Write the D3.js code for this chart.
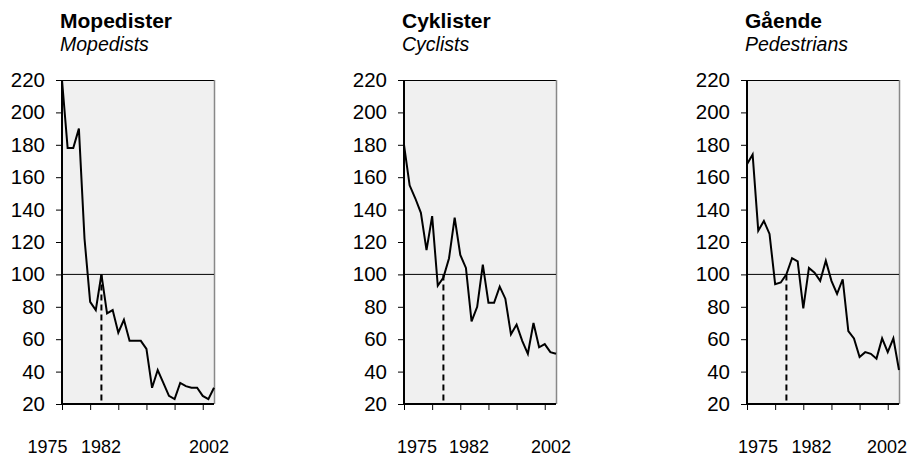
<!DOCTYPE html>
<html>
<head>
<meta charset="utf-8">
<script src="https://cdn.jsdelivr.net/npm/d3@7/dist/d3.min.js"></script>
<style>
  html, body { margin: 0; padding: 0; background: #ffffff; }
  svg { display: block; }
  text { font-family: "Liberation Sans", Arial, Helvetica, sans-serif; fill: #000; }
</style>
</head>
<body>
<svg id="chart" width="911" height="457"></svg>
<script>
// ---------- data ----------
const years = [1975,1976,1977,1978,1979,1980,1981,1982,1983,1984,1985,1986,1987,1988,
               1989,1990,1991,1992,1993,1994,1995,1996,1997,1998,1999,2000,2001,2002];
const mopedists   = [220,178,178,190,122,83,78,100,76,78,64,72,59,59,59,54,30,41,33,25,23,33,31,30,30,25,23,30];
const cyclists    = [180,155,147,138,115,136,93,98,110,135,112,104,71,80,106,82.5,82.5,92.5,85,63,69,59,51,70,55,57,52,51];
const pedestrians = [168,174,127,133,125,94,95,100,110,108,79,104,101,96,108.5,96,88,97,65,60.5,49,52,51,48,60.5,52,60.5,41];
const titlesDa = ["Mopedister", "Cyklister", "Gående"];
const titlesEn = ["Mopedists", "Cyclists", "Pedestrians"];
const yTicks = [20,40,60,80,100,120,140,160,180,200,220];
const xTickYears = [1975,1980,1985,1990,1995,2000];
const xLabelYears = [1975,1982,2002];
const baseYear = 1982;
const baseValue = 100;

// ---------- layout ----------
const series = [mopedists, cyclists, pedestrians];
const panelLefts = [62, 404, 747];
const plotW = 152, plotTop = 80, plotBottom = 404;
// hand-placed label nudges (px) per panel, per label year
const labelNudge = [
  {1975: -14.5, 1982: -0.5, 2002: -5},
  {1975: 13, 1982: 25.5, 2002: -5},
  {1975: 11, 1982: 25, 2002: -12}
];

const svg = d3.select("#chart");
svg.append("rect").attr("width", 911).attr("height", 457).attr("fill", "#fff");

const y = d3.scaleLinear().domain([20, 220]).range([plotBottom, plotTop]);

series.forEach((vals, i) => {
  const L = panelLefts[i];
  const x = d3.scaleLinear().domain([1975, 2002]).range([L, L + plotW]);
  const g = svg.append("g");

  // plot background
  g.append("rect")
    .attr("x", L).attr("y", plotTop)
    .attr("width", plotW).attr("height", plotBottom - plotTop)
    .attr("fill", "#f0f0f0");

  // top border
  g.append("line").attr("x1", L).attr("x2", L + plotW)
    .attr("y1", plotTop + 0.5).attr("y2", plotTop + 0.5)
    .attr("stroke", "#000").attr("stroke-width", 1);
  // right border (grey)
  g.append("line").attr("x1", L + plotW + 0.5).attr("x2", L + plotW + 0.5)
    .attr("y1", plotTop).attr("y2", plotBottom)
    .attr("stroke", "#888").attr("stroke-width", 1.5);

  // reference line at 100
  g.append("line").attr("x1", L).attr("x2", L + plotW)
    .attr("y1", y(baseValue)).attr("y2", y(baseValue))
    .attr("stroke", "#000").attr("stroke-width", 1);

  // dashed line at base year
  g.append("line").attr("x1", x(baseYear)).attr("x2", x(baseYear))
    .attr("y1", y(baseValue)).attr("y2", y(20))
    .attr("stroke", "#000").attr("stroke-width", 2)
    .attr("stroke-dasharray", "6,4");

  // data line
  const line = d3.line().x((d, j) => x(years[j])).y(d => y(d));
  g.append("path").datum(vals)
    .attr("d", line)
    .attr("fill", "none").attr("stroke", "#000")
    .attr("stroke-width", 2).attr("stroke-linejoin", "miter");

  // y axis
  const yAxis = d3.axisLeft(y).tickValues(yTicks).tickSize(6).tickFormat(d3.format("d"));
  const ya = g.append("g").attr("transform", `translate(${L},0)`).call(yAxis);
  ya.select(".domain").attr("stroke", "#000").attr("stroke-width", 2)
    .attr("d", `M0,${plotTop}V${plotBottom}`);
  ya.selectAll(".tick line").attr("stroke", "#000").attr("stroke-width", 1);
  ya.selectAll(".tick text")
    .attr("x", -17).attr("font-size", "20.5px")
    .attr("font-family", "'Liberation Sans', Arial, Helvetica, sans-serif");

  // x axis
  const xAxis = d3.axisBottom(x).tickValues(xTickYears).tickSize(6).tickFormat("");
  const xa = g.append("g").attr("transform", `translate(0,${plotBottom})`).call(xAxis);
  xa.select(".domain").attr("stroke", "#000").attr("stroke-width", 2)
    .attr("d", `M${L},0H${L + plotW}`);
  xa.selectAll(".tick line").attr("stroke", "#000").attr("stroke-width", 1);

  // x labels
  g.selectAll("text.xl").data(xLabelYears).enter().append("text")
    .attr("class", "xl")
    .attr("x", d => x(d) + labelNudge[i][d])
    .attr("y", 453)
    .attr("text-anchor", "middle")
    .attr("font-size", "18px")
    .text(d => d);

  // titles
  g.append("text").attr("x", L - 2).attr("y", 28)
    .attr("font-size", "21px").attr("font-weight", "bold")
    .text(titlesDa[i]);
  g.append("text").attr("x", L - 2).attr("y", 51)
    .attr("font-size", "19.5px").attr("font-style", "italic")
    .text(titlesEn[i]);
});
</script>
</body>
</html>
